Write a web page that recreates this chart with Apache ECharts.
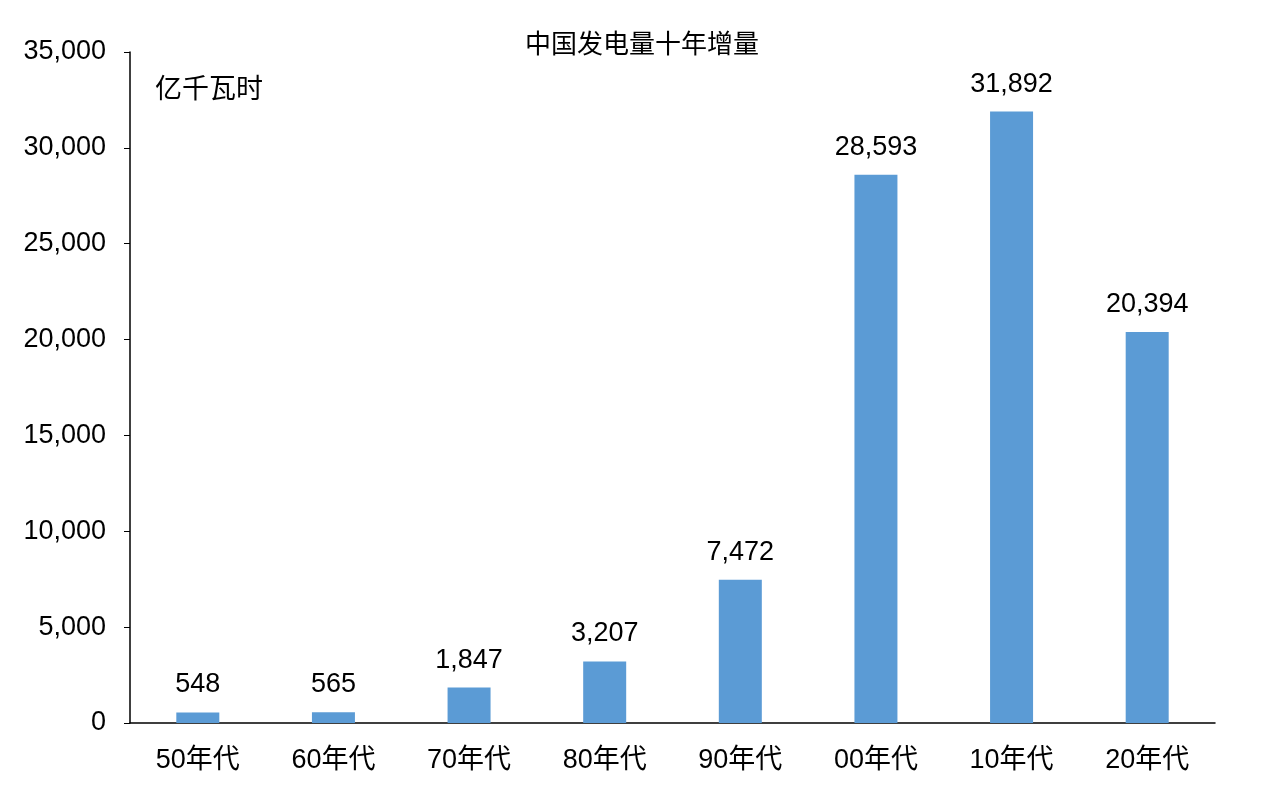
<!DOCTYPE html><html><head><meta charset="utf-8">
<script src="https://cdn.jsdelivr.net/npm/echarts@6/dist/echarts.min.js"></script>
<style>html,body{margin:0;background:#fff}#c{width:1271px;height:800px}</style></head><body><div id="c"></div>
<script>
const categories=['50年代','60年代','70年代','80年代','90年代','00年代','10年代','20年代'];
const values=[548,565,1847,3207,7472,28593,31892,20394];
const font='"Liberation Sans","Noto Sans CJK SC",sans-serif';
const ch=echarts.init(document.getElementById('c'));
ch.setOption({
 animation:false,
 title:{text:'中国发电量十年增量',left:637,top:28,textAlign:'center',textStyle:{fontFamily:font,fontSize:26,fontWeight:'normal',color:'#000'}},
 graphic:[{type:'text',left:155,top:77,style:{text:'亿千瓦时',font:'27px '+font,fill:'#000'}}],
 grid:{left:130,right:56,top:52,bottom:77},
 xAxis:{type:'category',data:categories,axisLine:{lineStyle:{color:'#000',width:1.5}},axisTick:{show:false},
  axisLabel:{fontFamily:font,fontSize:27,color:'#000',margin:24}},
 yAxis:{type:'value',min:0,max:35000,interval:5000,splitLine:{show:false},
  axisLine:{show:true,lineStyle:{color:'#000',width:1.5}},axisTick:{show:true,length:6,lineStyle:{color:'#000'}},
  axisLabel:{fontFamily:font,fontSize:27,color:'#000',margin:24,formatter:v=>v.toLocaleString('en-US')}},
 series:[{type:'bar',data:values,barWidth:43,itemStyle:{color:'#5b9bd5'},
  label:{show:true,position:'top',distance:14,fontFamily:font,fontSize:27,color:'#000',formatter:p=>p.value.toLocaleString('en-US')}}]
});
</script></body></html>
